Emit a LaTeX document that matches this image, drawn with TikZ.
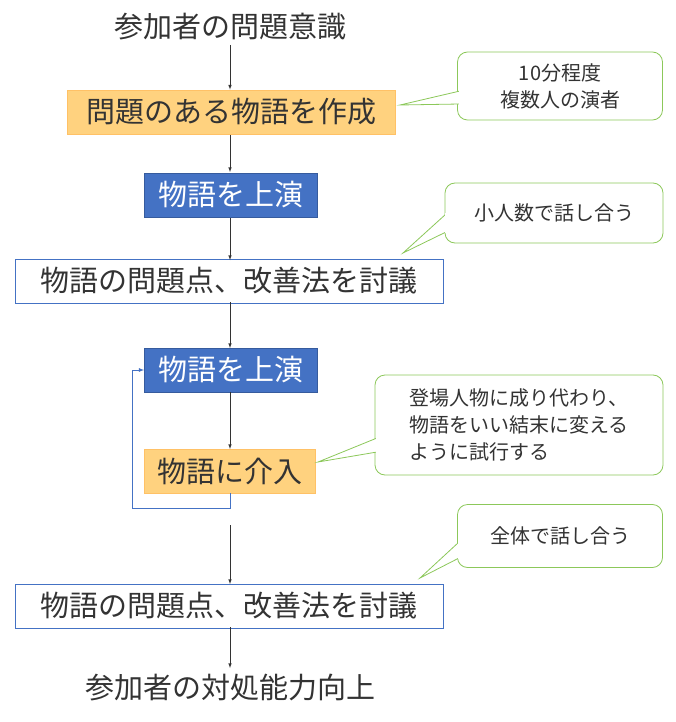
\documentclass[tikz,border=0pt]{standalone}
\usepackage{fontspec}
\setmainfont{Noto Sans CJK JP}
\begin{document}
\begin{tikzpicture}[x=1pt,y=-1pt,
  big/.style={font=\fontsize{29}{32}\selectfont, inner sep=0pt, text=black!80},
  box/.style={big, draw, minimum height=44pt, line width=0.8pt},
  org/.style={box, fill=og, draw=og!80!orange},
  blu/.style={box, fill=bl, draw=bl!80!black, text=white},
  wht/.style={box, fill=white, draw=bl},
  call/.style={draw=gr, fill=white, rounded corners=10pt, line width=0.8pt, align=center,
    text=black!80, font=\fontsize{20}{27}\selectfont},
  arr/.style={-latex, line width=0.6pt, black!80},
  pt/.style={draw=gr, fill=white, line width=0.8pt, line join=miter}]
\definecolor{bl}{HTML}{4472C4}
\definecolor{gr}{HTML}{8CC85A}
\definecolor{og}{HTML}{FFD27F}
\useasboundingbox (0,0) rectangle (675,722);
\node[big] (t) at (230,27) {参加者の問題意識};
\node[org, minimum width=328pt] (b1) at (231,112) {問題のある物語を作成};
\node[blu, minimum width=173pt] (b2) at (231,195) {物語を上演};
\node[wht, minimum width=428pt] (b3) at (229,281) {物語の問題点、改善法を討議};
\node[blu, minimum width=173pt] (b4) at (231,370) {物語を上演};
\node[org, minimum width=171pt] (b5) at (230,471) {物語に介入};
\node[wht, minimum width=428pt] (b6) at (229,606) {物語の問題点、改善法を討議};
\node[big] (e) at (230,688) {参加者の対処能力向上};
\draw[arr] (230,45) -- (b1.north -| 230,0);
\draw[arr] (230,135) -- (230,172);
\draw[arr] (230,218) -- (230,260);
\draw[arr] (230,302) -- (230,348);
\draw[arr] (230,392) -- (230,449);
\coordinate (s) at (230,525);
\draw[arr] (s) -- (230,584);
\draw[arr] (230,627) -- (230,668);
\draw[-latex, draw=bl, line width=0.8pt] (b5.south -| 230,0) -- (230,508) -- (132,508) -- (132,370) -- (b4.west);
% callouts
\node[call, minimum width=205pt, minimum height=68pt] (c1) at (560,86) {10分程度\\複数人の演者};
\path[pt] (460,91) -- (400,105) -- (460,104);
\fill[white] (459,90) rectangle (462,105);
\node[call, minimum width=218pt, minimum height=60pt] (c2) at (554,213) {小人数で話し合う};
\path[pt] (446,214) -- (403,253) -- (446,232);
\fill[white] (445,213) rectangle (448,233);
\node[call, minimum width=288pt, minimum height=100pt, align=left] (c3) at (519,425) {登場人物に成り代わり、\\物語をいい結末に変える\\ように試行する};
\path[pt] (377,438) -- (318,462) -- (377,452);
\fill[white] (376,437) rectangle (379,453);
\node[call, minimum width=205pt, minimum height=63pt] (c4) at (560,536) {全体で話し合う};
\path[pt] (459,542) -- (420,578) -- (459,558);
\fill[white] (458,541) rectangle (461,559);
\end{tikzpicture}
\end{document}
